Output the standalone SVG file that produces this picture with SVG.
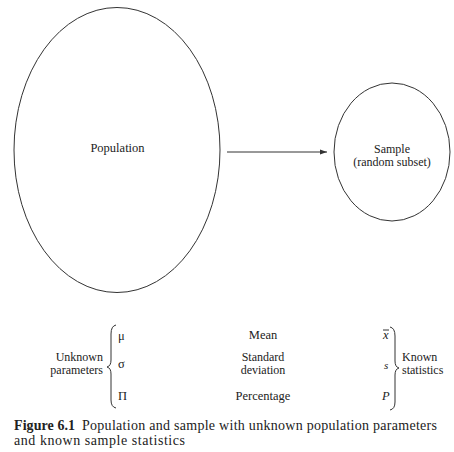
<svg xmlns="http://www.w3.org/2000/svg" width="454" height="452" viewBox="0 0 454 452">
<style>
text{font-family:"Liberation Serif","Times New Roman",serif;font-size:12.5px;fill:#222}
.s{font-size:12px}
.m{text-anchor:middle}
.e{text-anchor:end}
.sh{fill:none;stroke:#333;stroke-width:1}
.i{font-style:italic}
.b{font-weight:bold}
.c{font-size:14px}
</style>
<defs>
<marker id="ah" markerWidth="8" markerHeight="6" refX="7" refY="3" orient="auto" markerUnits="userSpaceOnUse">
<path d="M0,0.5 L7,3 L0,5.5 Z" fill="#333"/>
</marker>
</defs>
<rect width="454" height="452" fill="#fff"/>
<g id="population">
<ellipse class="sh" cx="117" cy="150" rx="103" ry="142.5"/>
<text class="m" x="117.5" y="152">Population</text>
</g>
<g id="sample">
<ellipse class="sh" cx="392" cy="152" rx="58" ry="69"/>
<text class="m s" x="392" y="153">Sample</text>
<text class="m s" x="392" y="166">(random subset)</text>
</g>
<g id="connectors">
<line class="sh" x1="227" y1="152" x2="327" y2="152" marker-end="url(#ah)"/>
</g>
<g id="unknown-parameters">
<text class="e s" x="103" y="361">Unknown</text>
<text class="e s" x="103" y="374">parameters</text>
<path class="sh" d="M116,325 Q111,326 111,334 L111,360 Q111,366 107,367 Q111,368 111,374 L111,400 Q111,407 116,408"/>
<text x="118" y="340">μ</text>
<text x="118" y="368">σ</text>
<text x="118" y="400">Π</text>
</g>
<g id="descriptions">
<text class="m" x="263" y="339">Mean</text>
<text class="m s" x="263" y="361">Standard</text>
<text class="m s" x="263" y="374">deviation</text>
<text class="m" x="263" y="400">Percentage</text>
</g>
<g id="known-statistics">
<text class="i" x="383" y="339">x</text>
<line class="sh" x1="383" y1="330" x2="389" y2="330"/>
<text class="i" x="384" y="369" style="font-size:11px">s</text>
<text class="i" x="382" y="400">P</text>
<path class="sh" d="M390,327 Q395,328 395,336 L395,361 Q395,367 399,368 Q395,369 395,375 L395,402 Q395,409 390,410"/>
<text class="s" x="402" y="361">Known</text>
<text class="s" x="402" y="374">statistics</text>
</g>
<g id="caption">
<text class="c" x="14" y="430"><tspan class="b" textLength="61">Figure 6.1</tspan><tspan x="82" textLength="355">Population and sample with unknown population parameters</tspan></text>
<text class="c" x="14" y="445" textLength="171">and known sample statistics</text>
</g>
</svg>
